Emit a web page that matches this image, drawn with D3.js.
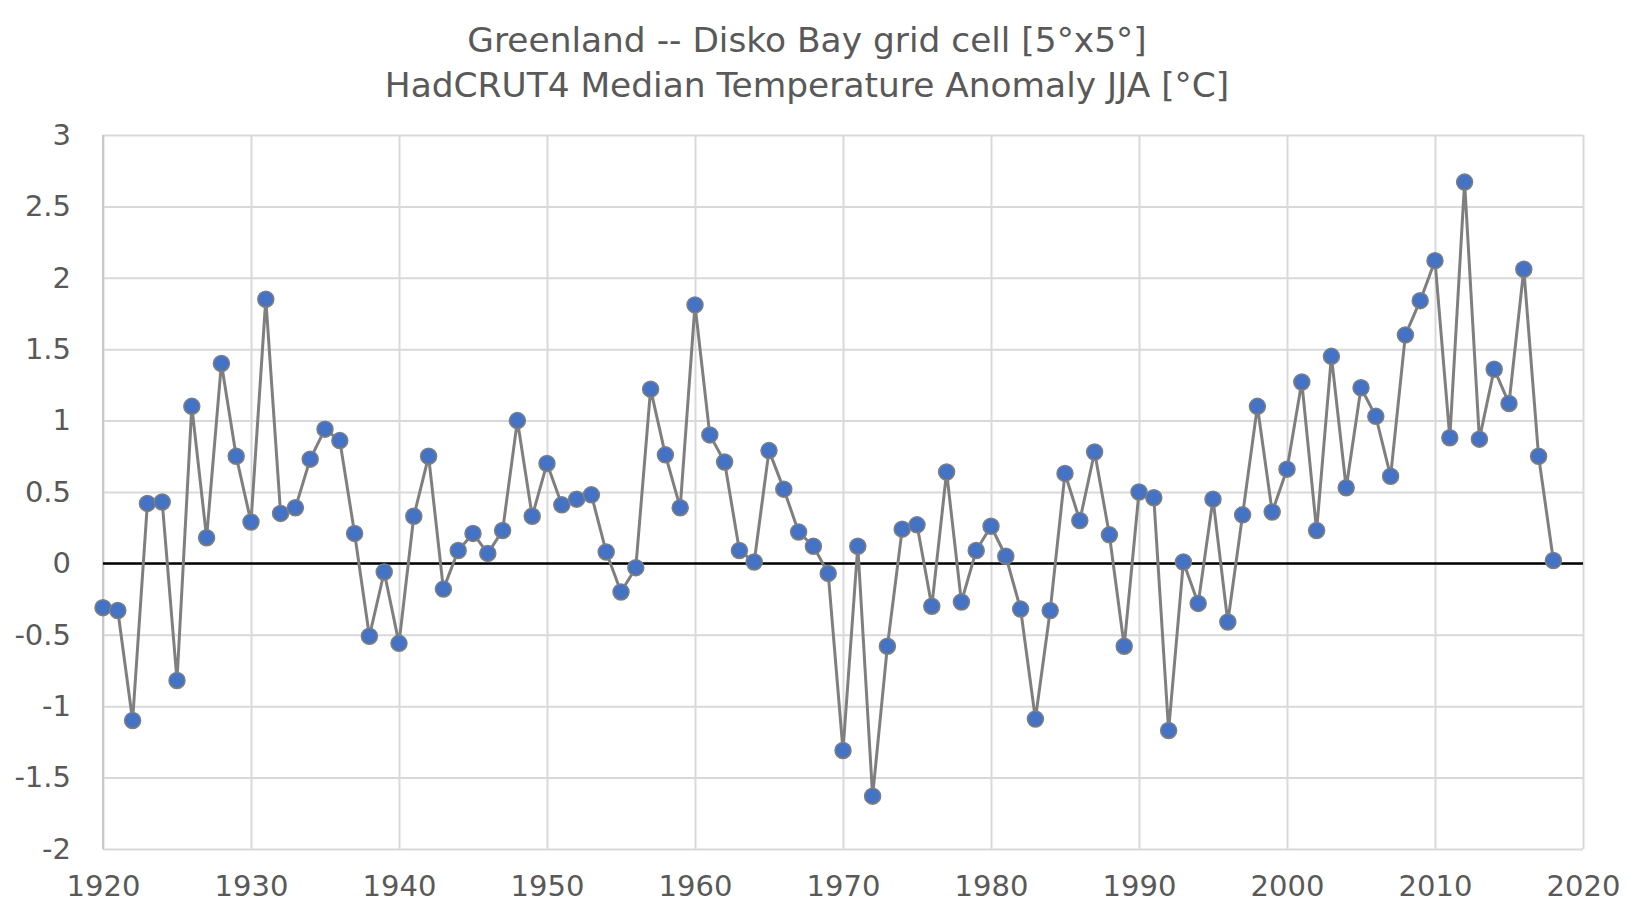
<!DOCTYPE html>
<html>
<head>
<meta charset="utf-8">
<script src="https://cdn.jsdelivr.net/npm/d3@7"></script>
<style>
  body { margin: 0; background: #fff; }
  svg { display: block; }
  text { font-family: "DejaVu Sans", sans-serif; fill: #595959; }
</style>
</head>
<body>
<div id="chart"></div>
<script>
const titleLines = [
  'Greenland -- Disko Bay grid cell [5°x5°]',
  'HadCRUT4 Median Temperature Anomaly JJA [°C]'
];

const years = d3.range(1920, 2019);

// JJA anomaly, one value per year 1920..2018
const anomaly = [
  -0.31, -0.33, -1.10, 0.42, 0.43, -0.82, 1.10, 0.18, 1.40, 0.75,
  0.29, 1.85, 0.35, 0.39, 0.73, 0.94, 0.86, 0.21, -0.51, -0.06,
  -0.56, 0.33, 0.75, -0.18, 0.09, 0.21, 0.07, 0.23, 1.00, 0.33,
  0.70, 0.41, 0.45, 0.48, 0.08, -0.20, -0.03, 1.22, 0.76, 0.39,
  1.81, 0.90, 0.71, 0.09, 0.01, 0.79, 0.52, 0.22, 0.12, -0.07,
  -1.31, 0.12, -1.63, -0.58, 0.24, 0.27, -0.30, 0.64, -0.27, 0.09,
  0.26, 0.05, -0.32, -1.09, -0.33, 0.63, 0.30, 0.78, 0.20, -0.58,
  0.50, 0.46, -1.17, 0.01, -0.28, 0.45, -0.41, 0.34, 1.10, 0.36,
  0.66, 1.27, 0.23, 1.45, 0.53, 1.23, 1.03, 0.61, 1.60, 1.84,
  2.12, 0.88, 2.67, 0.87, 1.36, 1.12, 2.06, 0.75, 0.02
];

const xTicks = [1920, 1930, 1940, 1950, 1960, 1970, 1980, 1990, 2000, 2010, 2020];
const yTicks = [-2, -1.5, -1, -0.5, 0, 0.5, 1, 1.5, 2, 2.5, 3];

const width = 1634;
const height = 908;
const plot = { left: 103, right: 1583, top: 135, bottom: 849 };

const data = years.map((year, i) => ({ year, value: anomaly[i] }));

const svg = d3.select('#chart')
  .append('svg')
  .attr('width', width)
  .attr('height', height);

const x = d3.scaleLinear().domain([1920, 2020]).range([plot.left, plot.right]);
const y = d3.scaleLinear().domain([-2, 3]).range([plot.bottom, plot.top]);

// title
svg.append('g')
  .selectAll('text')
  .data(titleLines)
  .join('text')
  .attr('x', 807)
  .attr('y', (d, i) => 52 + i * 45)
  .attr('text-anchor', 'middle')
  .style('font-size', '34.4px')
  .text(d => d);

const styleTicks = g => {
  g.select('.domain').remove();
  g.selectAll('.tick line').attr('stroke', '#d9d9d9').attr('stroke-width', 2);
  g.selectAll('.tick text')
    .attr('fill', '#595959')
    .style('font-family', '"DejaVu Sans", sans-serif')
    .style('font-size', '29px');
};

// horizontal gridlines + y labels (plain hyphen like Excel)
svg.append('g')
  .attr('transform', `translate(${plot.left},0)`)
  .call(d3.axisLeft(y)
    .tickValues(yTicks)
    .tickSize(-(plot.right - plot.left))
    .tickPadding(32)
    .tickFormat(d => String(d)))
  .call(styleTicks);

// vertical gridlines + x labels
svg.append('g')
  .attr('transform', `translate(0,${plot.bottom})`)
  .call(d3.axisBottom(x)
    .tickValues(xTicks)
    .tickSize(-(plot.bottom - plot.top))
    .tickPadding(26)
    .tickFormat(d3.format('d')))
  .call(styleTicks);

// left axis line a touch darker
svg.append('line')
  .attr('x1', plot.left).attr('x2', plot.left)
  .attr('y1', y(3)).attr('y2', y(-2))
  .attr('stroke', '#c8c8c8')
  .attr('stroke-width', 2);

// zero line
svg.append('line')
  .attr('x1', plot.left).attr('x2', plot.right)
  .attr('y1', y(0)).attr('y2', y(0))
  .attr('stroke', '#000')
  .attr('stroke-width', 2.5);

const line = d3.line()
  .x(d => x(d.year))
  .y(d => y(d.value));

svg.append('path')
  .datum(data)
  .attr('fill', 'none')
  .attr('stroke', '#7f7f7f')
  .attr('stroke-width', 3)
  .attr('stroke-linejoin', 'round')
  .attr('d', line);

svg.append('g')
  .selectAll('circle')
  .data(data)
  .join('circle')
  .attr('cx', d => x(d.year))
  .attr('cy', d => y(d.value))
  .attr('r', 8)
  .attr('fill', '#4472c4')
  .attr('stroke', '#7f7f7f')
  .attr('stroke-width', 1.5);
</script>
</body>
</html>
